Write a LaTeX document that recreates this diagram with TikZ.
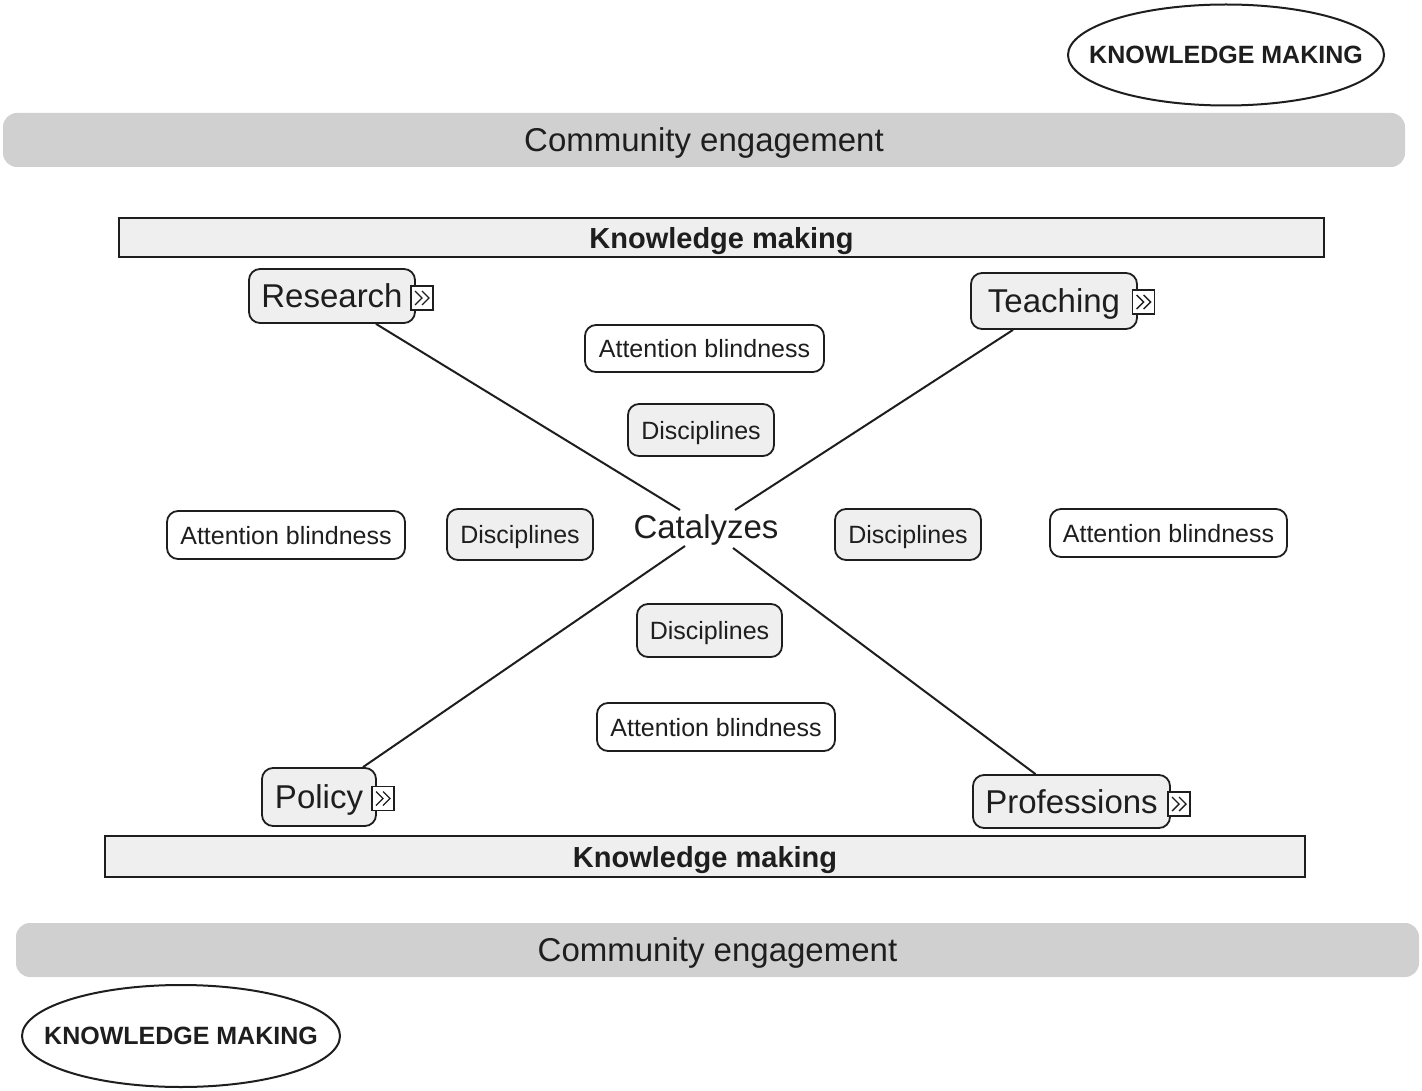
\documentclass[tikz,border=0pt]{standalone}
\usepackage{fontspec}
\setmainfont{Liberation Sans}
\definecolor{ink}{HTML}{1E1E1E}
\definecolor{bargray}{HTML}{D0D0D0}
\definecolor{boxgray}{HTML}{EFEFEF}
\newcommand\chevicon[1]{%
  \draw[ink, line width=1.4pt] ([shift={(-7,-7)}]#1.center) -- ([shift={(0,0)}]#1.center) -- ([shift={(-7,7)}]#1.center);
  \draw[ink, line width=1.4pt] ([shift={(0,-7)}]#1.center) -- ([shift={(7,0)}]#1.center) -- ([shift={(0,7)}]#1.center);}
\begin{document}
\begin{tikzpicture}[x=1pt,y=-1pt,
  every node/.style={text depth=0pt},
  bar/.style={fill=bargray, draw=none, rounded corners=14pt, inner sep=0pt, font=\fontsize{33}{38}\selectfont, text=ink},
  kmbox/.style={draw=ink, line width=1.8pt, fill=boxgray, inner sep=0pt, font=\bfseries\fontsize{29}{33}\selectfont, text=ink},
  topic/.style={draw=ink, line width=1.8pt, fill=boxgray, rounded corners=11pt, inner sep=0pt, font=\fontsize{33}{38}\selectfont, text=ink},
  disc/.style={draw=ink, line width=1.8pt, fill=boxgray, rounded corners=11pt, inner sep=0pt, minimum width=146pt, minimum height=51pt, font=\fontsize{25}{30}\selectfont, text=ink},
  attn/.style={draw=ink, line width=1.8pt, fill=white, rounded corners=11pt, inner sep=0pt, minimum width=238pt, minimum height=48pt, font=\fontsize{25}{30}\selectfont, text=ink},
  icon/.style={draw=ink, line width=1.4pt, fill=white, inner sep=0pt, minimum width=22pt, minimum height=24pt},
  ovaltext/.style={inner sep=0pt, font=\bfseries\fontsize{25}{30}\selectfont, text=ink},
  oval/.style={draw=ink, line width=2pt, fill=white},
  link/.style={draw=ink, line width=2pt}
]
\useasboundingbox (0,0) rectangle (1422,1091);

% top / bottom ovals
\filldraw[oval] (1226,55) ellipse [x radius=158, y radius=50.5];
\node[ovaltext] (kmtop) at (1226,55) {KNOWLEDGE MAKING};
\filldraw[oval] (181,1036) ellipse [x radius=159, y radius=51];
\node[ovaltext] (kmbot) at (181,1036) {KNOWLEDGE MAKING};

% community engagement bars
\node[bar, minimum width=1402pt, minimum height=54pt] (cetop) at (704,140) {Community engagement};
\node[bar, minimum width=1403pt, minimum height=54pt] (cebot) at (717.5,950) {Community engagement};

% knowledge making boxes
\node[kmbox, minimum width=1205pt, minimum height=39pt] (kmrtop) at (721.5,237.5) {Knowledge making};
\node[kmbox, minimum width=1200pt, minimum height=41pt] (kmrbot) at (705,856.5) {Knowledge making};

% centre
\node[inner sep=0pt, font=\fontsize{33}{38}\selectfont, text=ink] (cat) at (706,527) {Catalyzes};
\coordinate (c1) at (680,510);
\coordinate (c2) at (735,510);
\coordinate (c3) at (685,546);
\coordinate (c4) at (733,548);

% topic boxes
\node[topic, minimum width=166pt, minimum height=54pt] (research) at (332,296) {Research};
\node[topic, minimum width=166pt, minimum height=56pt] (teaching) at (1054,301) {Teaching};
\node[topic, minimum width=114pt, minimum height=58pt] (policy) at (319,797) {Policy};
\node[topic, minimum width=197pt, minimum height=53pt] (professions) at (1071.5,801.5) {Professions};

% connectors
\draw[link] ([xshift=44pt]research.south) -- (c1);
\draw[link] ([xshift=-41pt]teaching.south) -- (c2);
\draw[link] ([xshift=44pt]policy.north) -- (c3);
\draw[link] ([xshift=-36pt]professions.north) -- (c4);

% icons
\node[icon] (iresearch) at (422,298) {};
\chevicon{iresearch}
\node[icon] (iteaching) at (1143.5,302) {};
\chevicon{iteaching}
\node[icon] (ipolicy) at (383,798.5) {};
\chevicon{ipolicy}
\node[icon] (iprofessions) at (1179,804) {};
\chevicon{iprofessions}

% disciplines
\node[disc, minimum height=52pt] (dtop) at (701,430) {Disciplines};
\node[disc] (dleft) at (520,534.5) {Disciplines};
\node[disc] (dright) at (908,534.5) {Disciplines};
\node[disc, minimum width=145pt, minimum height=53pt] (dbot) at (709.5,630.5) {Disciplines};

% attention blindness
\node[attn, minimum width=239pt, minimum height=47pt] (atop) at (704.5,348.5) {Attention blindness};
\node[attn] (aleft) at (286,535) {Attention blindness};
\node[attn, minimum width=237pt] (aright) at (1168.5,533) {Attention blindness};
\node[attn] (abot) at (716,727) {Attention blindness};
\end{tikzpicture}
\end{document}
